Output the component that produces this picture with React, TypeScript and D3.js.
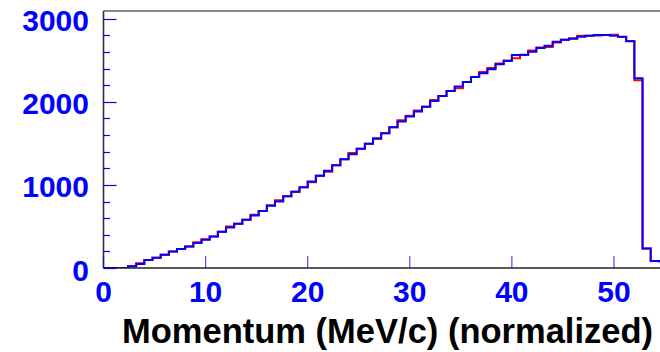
import React, { useEffect, useRef } from 'react';
import * as d3 from 'd3';

const width = 660;
const height = 352;
// plot frame in pixels (right side runs past the window like in the original)
const frame = { left: 103.5, right: 665, top: 11, bottom: 268 };

const binWidth = 0.8;
// counts per 0.8 MeV/c bin, starting at 0
const blueCounts = [
  0, 0, 0, 20, 48, 96, 124, 160, 200, 228,
  260, 300, 340, 380, 436, 488, 532, 580, 632, 685,
  749, 800, 865, 918, 973, 1041, 1109, 1169, 1238, 1310,
  1370, 1434, 1494, 1562, 1622, 1695, 1762, 1822, 1882, 1942,
  2011, 2071, 2131, 2183, 2240, 2300, 2344, 2392, 2452, 2492,
  2564, 2567, 2603, 2648, 2675, 2724, 2748, 2760, 2784, 2796,
  2804, 2804, 2796, 2784, 2728, 2284, 236, 84, 80,
];
const redCounts = [
  0, 0, 0, 22, 58, 96, 124, 160, 200, 228,
  260, 310, 345, 380, 436, 498, 532, 580, 642, 685,
  755, 815, 865, 918, 973, 1031, 1109, 1159, 1238, 1310,
  1385, 1434, 1494, 1552, 1622, 1695, 1777, 1832, 1897, 1942,
  2021, 2071, 2131, 2163, 2240, 2300, 2359, 2407, 2462, 2497,
  2524, 2562, 2618, 2653, 2660, 2714, 2748, 2765, 2794, 2796,
  2799, 2804, 2806, 2779, 2733, 2259, 236, 84, 80,
];

const xDomain = [0, 55];
const yDomain = [0, 3093];
const xTicks = [0, 10, 20, 30, 40, 50];
const yTicks = [0, 1000, 2000, 3000];
const yMinorStep = 200;
const xTitle = 'Momentum (MeV/c) (normalized)';

const font = '"Liberation Sans", Arial, Helvetica, sans-serif';

export default function App() {
  const ref = useRef<SVGSVGElement>(null);

  useEffect(() => {
    const svg = d3.select(ref.current);
    svg.selectAll('*').remove();

    const x = d3.scaleLinear().domain(xDomain).range([frame.left, frame.right]);
    const y = d3.scaleLinear().domain(yDomain).range([frame.bottom, frame.top]);

    svg.append('defs').append('clipPath').attr('id', 'plot-clip')
      .append('rect')
      .attr('x', frame.left).attr('y', frame.top - 2)
      .attr('width', frame.right - frame.left).attr('height', frame.bottom - frame.top + 2);

    // histograms (red underneath, blue on top)
    const line = d3.line<[number, number]>()
      .x(d => x(d[0]))
      .y(d => y(d[1]))
      .curve(d3.curveStepAfter);
    const toPoints = (counts: number[]) => {
      const pts: [number, number][] = counts.map((c, i) => [i * binWidth, c]);
      pts.push([counts.length * binWidth, counts[counts.length - 1]]);
      return pts;
    };
    const hists = svg.append('g').attr('clip-path', 'url(#plot-clip)').attr('fill', 'none');
    hists.append('path').attr('d', line(toPoints(redCounts))).attr('stroke', '#ff0000').attr('stroke-width', 2);
    hists.append('path').attr('d', line(toPoints(blueCounts))).attr('stroke', '#0000ff').attr('stroke-width', 2);

    // frame
    svg.append('line')
      .attr('x1', frame.left).attr('x2', frame.right).attr('y1', frame.top).attr('y2', frame.top)
      .attr('stroke', '#888').attr('stroke-width', 2);
    svg.append('line')
      .attr('x1', frame.left).attr('x2', frame.left).attr('y1', frame.top).attr('y2', frame.bottom)
      .attr('stroke', '#333').attr('stroke-width', 1.6);
    svg.append('line')
      .attr('x1', frame.left).attr('x2', frame.right).attr('y1', frame.bottom).attr('y2', frame.bottom)
      .attr('stroke', '#222').attr('stroke-width', 1.6);

    // y ticks
    const yMinor = d3.range(0, yDomain[1], yMinorStep);
    svg.append('g').selectAll('line').data(yMinor).join('line')
      .attr('x1', frame.left).attr('x2', d => frame.left + (yTicks.includes(d) ? 13 : 6.5))
      .attr('y1', d => Math.round(y(d)) + 0.5).attr('y2', d => Math.round(y(d)) + 0.5)
      .attr('stroke', '#0000ff').attr('stroke-width', 1.2);
    svg.append('g').selectAll('text').data(yTicks).join('text')
      .attr('x', 89).attr('y', d => y(d) + 12.5)
      .attr('text-anchor', 'end')
      .attr('font-family', font).attr('font-weight', 'bold').attr('font-size', 30)
      .attr('fill', '#0000ff')
      .text(d => d);

    // x ticks
    svg.append('g').selectAll('line').data(xTicks).join('line')
      .attr('x1', d => x(d)).attr('x2', d => x(d))
      .attr('y1', frame.bottom).attr('y2', frame.bottom - 12)
      .attr('stroke', '#0000ff').attr('stroke-width', 1.2).attr('stroke-opacity', 0.7);
    svg.append('g').selectAll('text').data(xTicks).join('text')
      .attr('x', d => x(d)).attr('y', 302)
      .attr('text-anchor', 'middle')
      .attr('font-family', font).attr('font-weight', 'bold').attr('font-size', 30)
      .attr('fill', '#0000ff')
      .text(d => d);

    svg.append('text')
      .attr('x', 653).attr('y', 343)
      .attr('text-anchor', 'end')
      .attr('font-family', font).attr('font-weight', 'bold').attr('font-size', 34.5)
      .attr('fill', '#000')
      .text(xTitle);
  }, []);

  return (
    <svg ref={ref} width={width} height={height}
      style={{ position: 'absolute', left: 0, top: 0, background: '#fff' }} />
  );
}
